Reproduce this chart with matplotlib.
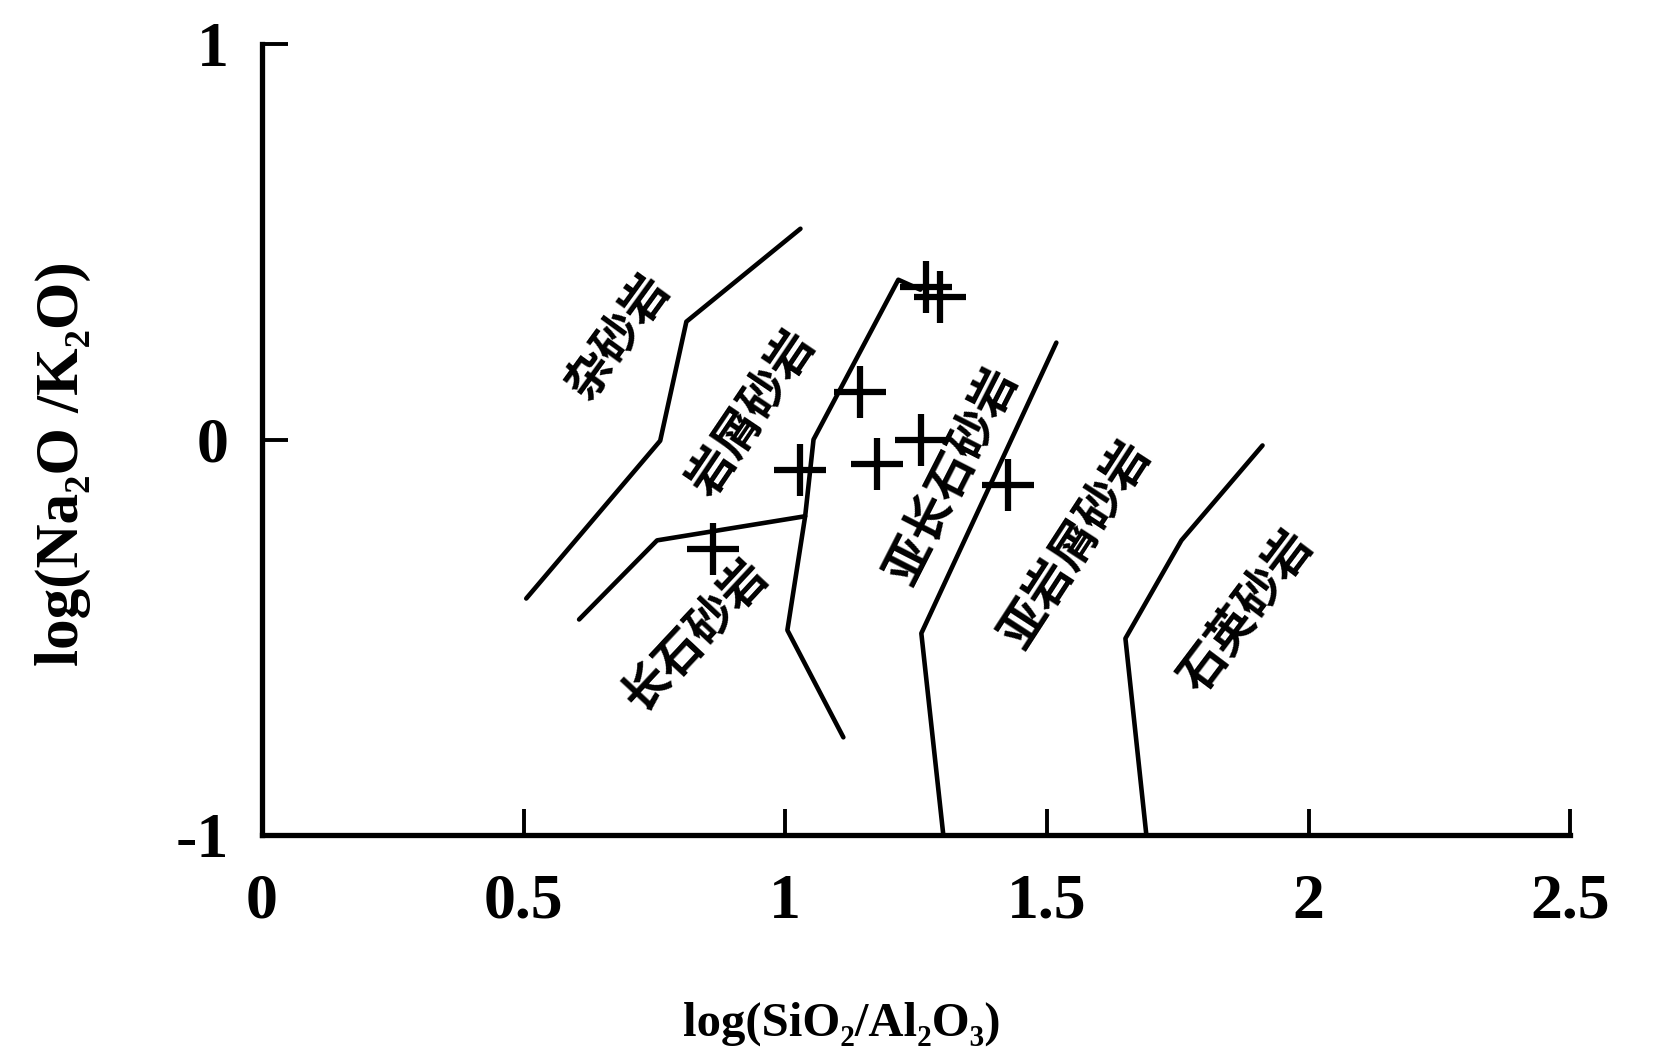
import matplotlib
matplotlib.use('Agg')
import matplotlib.pyplot as plt

# ---- data ----
x_ticks = [0, 0.5, 1, 1.5, 2, 2.5]
x_tick_labels = ['0', '0.5', '1', '1.5', '2', '2.5']
y_ticks = [-1, 0, 1]
y_tick_labels = ['-1', '0', '1']

# classification boundary lines
b1_x = [0.505, 0.761, 0.811, 1.029]
b1_y = [-0.402, -0.003, 0.298, 0.533]
b2_x = [0.606, 0.755, 1.038]
b2_y = [-0.455, -0.255, -0.194]
b3_x = [1.111, 1.004, 1.038, 1.054, 1.216, 1.258]
b3_y = [-0.753, -0.482, -0.194, 0.000, 0.404, 0.379]
b4_x = [1.302, 1.260, 1.518]
b4_y = [-1.0, -0.49, 0.245]
b5_x = [1.690, 1.650, 1.757, 1.912]
b5_y = [-1.0, -0.503, -0.255, -0.015]

# samples
samples_x = [1.268, 1.296, 1.142, 1.029, 1.176, 1.260, 1.426, 0.862]
samples_y = [0.386, 0.361, 0.119, -0.078, -0.061, 0.000, -0.114, -0.278]

# field names
field_names = ['杂砂岩', '岩屑砂岩', '长石砂岩', '亚长石砂岩', '亚岩屑砂岩', '石英砂岩']
field_x = [0.681, 0.937, 0.830, 1.318, 1.555, 1.881]
field_y = [0.260, 0.066, -0.495, -0.090, -0.265, -0.434]
field_rot = [54, 56, 47, 63, 57, 53]

# ---- figure ----
fig = plt.figure(figsize=(16.56, 10.61), dpi=100)
ax = fig.add_axes([0.1582, 0.213, 0.790, 0.7455])

lw = 3.3
for bx, by in [(b1_x, b1_y), (b2_x, b2_y), (b3_x, b3_y), (b4_x, b4_y), (b5_x, b5_y)]:
    ax.plot(bx, by, color='black', lw=lw, solid_capstyle='round', solid_joinstyle='round',
            clip_on=False)

ax.plot(samples_x, samples_y, linestyle='none', marker='+', markersize=38,
        markeredgewidth=4.5, color='black')

for name, fx, fy, rot in zip(field_names, field_x, field_y, field_rot):
    ax.text(fx, fy, name, rotation=rot, rotation_mode='anchor', ha='center', va='center',
            fontsize=34, fontweight='bold', family=['Noto Sans CJK SC', 'DejaVu Sans'])

ax.set_xlim(0, 2.5)
ax.set_ylim(-1, 1)
ax.spines['top'].set_visible(False)
ax.spines['right'].set_visible(False)
ax.spines['left'].set_linewidth(3.8)
ax.spines['bottom'].set_linewidth(3.8)

ax.set_xticks(x_ticks)
ax.set_xticklabels(x_tick_labels)
ax.set_yticks(y_ticks)
ax.set_yticklabels(y_tick_labels)
ax.tick_params(axis='both', direction='in', length=19, width=2.8, color='black')
ax.tick_params(axis='x', pad=28)
ax.tick_params(axis='y', pad=24)
for lab in ax.get_xticklabels() + ax.get_yticklabels():
    lab.set_fontfamily('Liberation Serif')
    lab.set_fontweight('bold')
    lab.set_fontsize(46)

ax.set_xlabel('log(SiO₂/Al₂O₃)', fontsize=35, fontweight='bold', family='Liberation Serif',
              va='center')
ax.xaxis.set_label_coords(0.443, -0.239)
ax.set_ylabel('log(Na₂O /K₂O)', fontsize=44, fontweight='bold', family='Liberation Serif',
              va='center')
ax.yaxis.set_label_coords(-0.152, 0.47)

fig.savefig('out.png', dpi=100)
